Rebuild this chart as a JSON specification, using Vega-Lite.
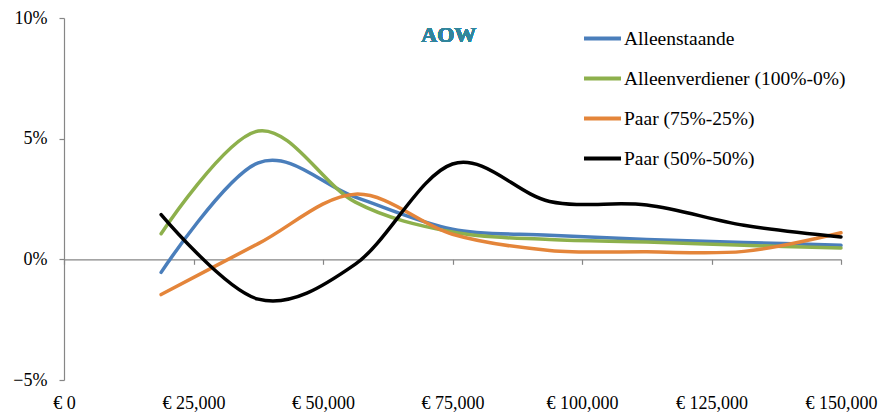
{
  "$schema": "https://vega.github.io/schema/vega-lite/v6.json",
  "width": 777,
  "height": 362,
  "autosize": {"type": "none"},
  "padding": {"left": 64, "top": 18, "right": 45, "bottom": 35},
  "background": "white",
  "config": {
    "view": {"stroke": null},
    "font": "Liberation Serif"
  },
  "data": {
    "values": [
      {"inkomen": 18750, "waarde": -0.0054, "groep": "Alleenstaande"},
      {"inkomen": 37500, "waarde": 0.0400, "groep": "Alleenstaande"},
      {"inkomen": 56250, "waarde": 0.0258, "groep": "Alleenstaande"},
      {"inkomen": 75000, "waarde": 0.0125, "groep": "Alleenstaande"},
      {"inkomen": 93750, "waarde": 0.0100, "groep": "Alleenstaande"},
      {"inkomen": 112500, "waarde": 0.0082, "groep": "Alleenstaande"},
      {"inkomen": 131250, "waarde": 0.0070, "groep": "Alleenstaande"},
      {"inkomen": 150000, "waarde": 0.0058, "groep": "Alleenstaande"},
      {"inkomen": 18750, "waarde": 0.0106, "groep": "Alleenverdiener (100%-0%)"},
      {"inkomen": 37500, "waarde": 0.0532, "groep": "Alleenverdiener (100%-0%)"},
      {"inkomen": 56250, "waarde": 0.0237, "groep": "Alleenverdiener (100%-0%)"},
      {"inkomen": 75000, "waarde": 0.0113, "groep": "Alleenverdiener (100%-0%)"},
      {"inkomen": 93750, "waarde": 0.0082, "groep": "Alleenverdiener (100%-0%)"},
      {"inkomen": 112500, "waarde": 0.0072, "groep": "Alleenverdiener (100%-0%)"},
      {"inkomen": 131250, "waarde": 0.0058, "groep": "Alleenverdiener (100%-0%)"},
      {"inkomen": 150000, "waarde": 0.0047, "groep": "Alleenverdiener (100%-0%)"},
      {"inkomen": 18750, "waarde": -0.0146, "groep": "Paar (75%-25%)"},
      {"inkomen": 37500, "waarde": 0.0065, "groep": "Paar (75%-25%)"},
      {"inkomen": 56250, "waarde": 0.0270, "groep": "Paar (75%-25%)"},
      {"inkomen": 75000, "waarde": 0.0104, "groep": "Paar (75%-25%)"},
      {"inkomen": 93750, "waarde": 0.0037, "groep": "Paar (75%-25%)"},
      {"inkomen": 112500, "waarde": 0.0031, "groep": "Paar (75%-25%)"},
      {"inkomen": 131250, "waarde": 0.0033, "groep": "Paar (75%-25%)"},
      {"inkomen": 150000, "waarde": 0.0110, "groep": "Paar (75%-25%)"},
      {"inkomen": 18750, "waarde": 0.0185, "groep": "Paar (50%-50%)"},
      {"inkomen": 37500, "waarde": -0.0165, "groep": "Paar (50%-50%)"},
      {"inkomen": 56250, "waarde": -0.0020, "groep": "Paar (50%-50%)"},
      {"inkomen": 75000, "waarde": 0.0395, "groep": "Paar (50%-50%)"},
      {"inkomen": 93750, "waarde": 0.0240, "groep": "Paar (50%-50%)"},
      {"inkomen": 112500, "waarde": 0.0225, "groep": "Paar (50%-50%)"},
      {"inkomen": 131250, "waarde": 0.0141, "groep": "Paar (50%-50%)"},
      {"inkomen": 150000, "waarde": 0.0093, "groep": "Paar (50%-50%)"}
    ]
  },
  "layer": [
    {
      "mark": {"type": "line", "interpolate": "cardinal", "strokeWidth": 3.5, "strokeCap": "round"},
      "encoding": {
        "x": {
          "field": "inkomen", "type": "quantitative",
          "scale": {"domain": [0, 150000], "nice": false, "zero": false},
          "axis": {
            "values": [0, 25000, 50000, 75000, 100000, 125000, 150000],
            "labelExpr": "'€ ' + format(datum.value, ',')",
            "title": null, "grid": false,
            "offset": -120.7,
            "domainColor": "#868686", "domainWidth": 1.2,
            "tickColor": "#868686", "tickSize": 5, "tickWidth": 1.2,
            "labelPadding": 130, "labelBaseline": "top",
            "labelFontSize": 18, "labelColor": "#000000", "labelFont": "Liberation Serif",
            "labelFlush": false, "labelOverlap": false
          }
        },
        "y": {
          "field": "waarde", "type": "quantitative",
          "scale": {"domain": [-0.05, 0.10], "nice": false, "zero": false},
          "axis": {
            "values": [-0.05, 0, 0.05, 0.10],
            "format": ".0%",
            "title": null, "grid": false,
            "domainColor": "#868686", "domainWidth": 1.2,
            "tickColor": "#868686", "tickSize": 5, "tickWidth": 1.2,
            "labelPadding": 12, "labelFontSize": 18, "labelColor": "#000000", "labelFont": "Liberation Serif"
          }
        },
        "color": {
          "field": "groep", "type": "nominal",
          "scale": {
            "domain": ["Alleenstaande", "Alleenverdiener (100%-0%)", "Paar (75%-25%)", "Paar (50%-50%)"],
            "range": ["#4A7EBB", "#8DB04C", "#E4853A", "#000000"]
          },
          "legend": {
            "title": null,
            "orient": "none",
            "legendX": 518,
            "legendY": 0,
            "symbolType": "stroke",
            "symbolSize": 1369,
            "symbolStrokeWidth": 4,
            "labelFontSize": 19.5,
            "labelFont": "Liberation Serif",
            "labelColor": "#000000",
            "labelOffset": 1,
            "rowPadding": 10,
            "labelLimit": 400
          }
        }
      }
    },
    {
      "mark": {"type": "text", "text": "AOW", "fontSize": 22, "fontWeight": "bold", "font": "Liberation Serif", "color": "#31859C", "baseline": "middle", "align": "center"},
      "encoding": {
        "x": {"datum": 74300, "type": "quantitative"},
        "y": {"datum": 0.0928, "type": "quantitative"}
      }
    }
  ]
}
